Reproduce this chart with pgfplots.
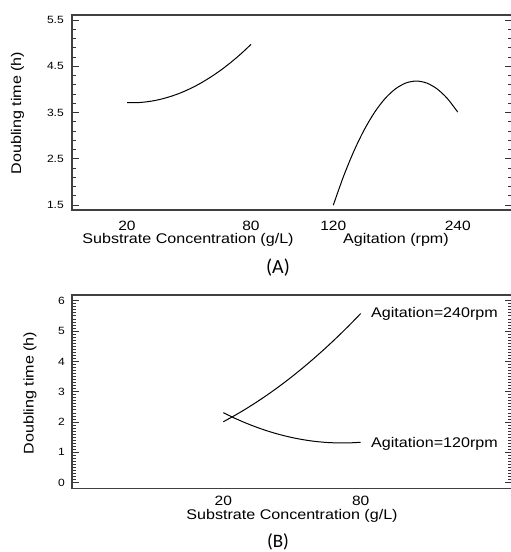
\documentclass[border=0pt]{standalone}
\usepackage{pgfplots}
\pgfplotsset{compat=1.18}
\usepackage{fontspec}
\setmainfont{Liberation Sans}[FakeStretch=1.15]
\newfontfamily\carlito{Carlito}
\begin{document}
\begin{tikzpicture}
\pgfplotsset{
  myaxis/.style={
    scale only axis,
    axis line style={line width=1.1pt, black!75},
    tick align=inside,
    major tick length=7pt,
    minor tick length=4pt,
    every tick/.style={line width=0.9pt, black!80},
    /pgf/number format/assume math mode=true,
    clip=false,
    xtick style={draw=none},
    xticklabel style={font=\fontsize{13.5}{15}\selectfont, inner sep=0pt, anchor=north},
  }
}
% ---------------- Panel A
\begin{axis}[myaxis,
  at={(72pt,-210pt)}, anchor=south west,
  width=440pt, height=195pt,
  xmin=72, xmax=512, ymin=1.392, ymax=5.608,
  ytick={1.5,2.5,3.5,4.5,5.5},
  yticklabels={1.5,2.5,3.5,4.5,5.5},
  minor y tick num=4,
  xtick={127,251,333.3,457.7},
  xticklabels={20,80,120,240},
  xticklabel style={yshift=-10.5pt},
  yticklabel style={font=\fontsize{10.5}{12}\selectfont, inner sep=0pt, anchor=east, xshift=-8pt},
]
% Substrate concentration (g/L)
\addplot[black, line width=1pt, smooth] table[x expr={127+(\thisrowno{0}-20)*124/60}, y index=1] {
20 3.712
25 3.713
30 3.734
35 3.773
40 3.832
45 3.908
50 4.004
55 4.118
60 4.252
65 4.403
70 4.574
75 4.763
80 4.972
};
% Agitation (rpm)
\addplot[black, line width=1pt, smooth] table[x expr={333.3+(\thisrowno{0}-120)*124.4/120}, y index=1] {
120 1.498
130 2.127
140 2.672
150 3.133
160 3.510
170 3.803
180 4.012
190 4.138
200 4.180
210 4.138
220 4.012
230 3.803
240 3.510
};
\end{axis}
% ---------------- Panel B
\begin{axis}[myaxis,
  at={(72pt,-488.7pt)}, anchor=south west,
  width=440pt, height=193.7pt,
  xmin=-46.07, xmax=146.07, ymin=-0.198, ymax=6.19,
  ytick={0,1,2,3,4,5,6},
  minor y tick num=9,
  xtick={20,80},
  xticklabel style={yshift=-7.5pt},
  yticklabel style={font=\fontsize{10.5}{12}\selectfont, inner sep=0pt, anchor=east, xshift=-7pt},
]
\addplot[black, line width=1pt, smooth] table {
20 2.010
25 2.217
30 2.441
35 2.681
40 2.937
45 3.210
50 3.499
55 3.805
60 4.127
65 4.465
70 4.820
75 5.191
80 5.579
};
\addplot[black, line width=1pt, smooth] table {
20 2.310
25 2.127
30 1.963
35 1.817
40 1.689
45 1.580
50 1.489
55 1.417
60 1.363
65 1.328
70 1.312
75 1.313
80 1.334
};
\end{axis}
% ---------------- labels
\begin{scope}[every node/.style={inner sep=0pt, font=\fontsize{14}{16}\selectfont}]
\node[rotate=90] at (17.5pt,-113pt) {Doubling time (h)};
\node at (188pt,-239.5pt) {Substrate Concentration (g/L)};
\node at (396pt,-239.5pt) {Agitation (rpm)};
\node[font=\carlito\fontsize{20}{22}\selectfont] at (278pt,-268pt) {(A)};
\node[rotate=90] at (30pt,-393pt) {Doubling time (h)};
\node at (292pt,-516pt) {Substrate Concentration (g/L)};
\node[anchor=west] at (371pt,-313.5pt) {Agitation=240rpm};
\node[anchor=west] at (371pt,-443.5pt) {Agitation=120rpm};
\node[font=\carlito\fontsize{19}{21}\selectfont] at (278pt,-541.5pt) {(B)};
\end{scope}
\pgfresetboundingbox
\useasboundingbox (0pt,0pt) rectangle (511pt,-552pt);
\end{tikzpicture}
\end{document}
